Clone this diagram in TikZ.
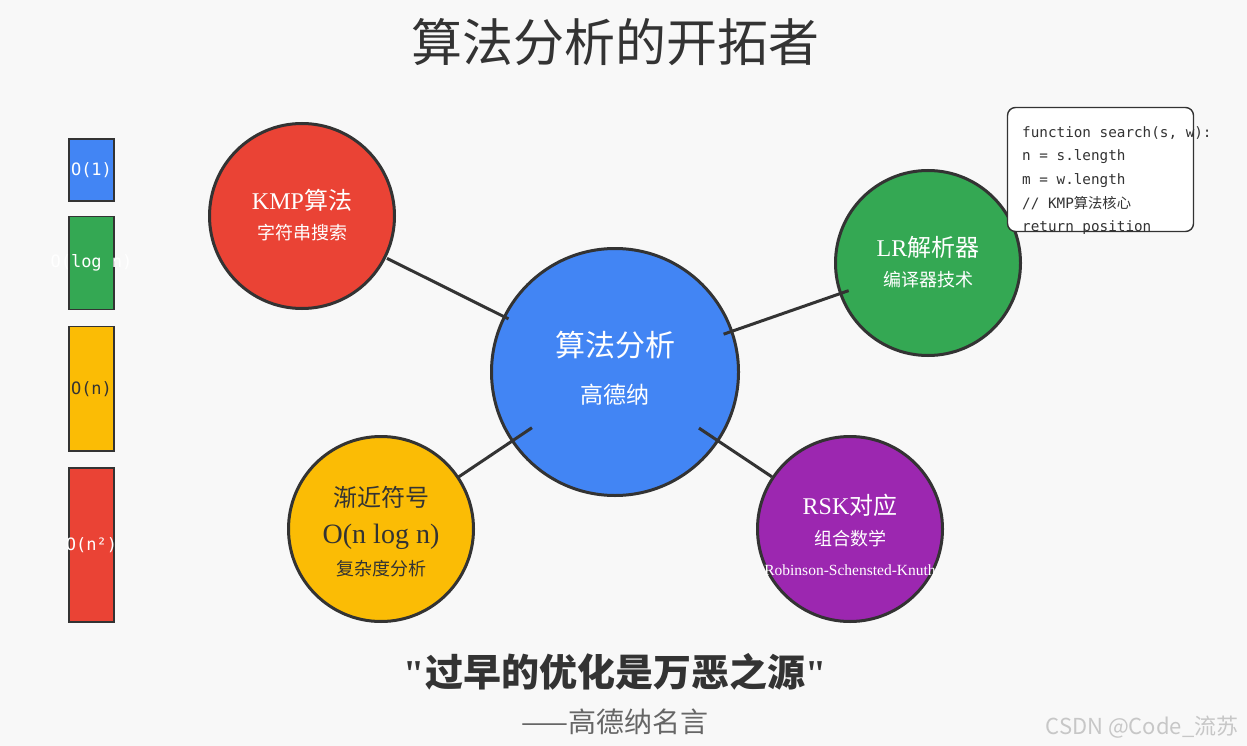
\documentclass[tikz,border=0pt]{standalone}
\usepackage{xcolor}
\usepackage{fontspec}
\setmainfont{Noto Sans CJK SC}
\setmonofont{DejaVu Sans Mono}
\newfontfamily\lat{Liberation Serif}
\newfontfamily\cjk{Noto Sans CJK SC}
\usetikzlibrary{positioning}
\definecolor{bgcolor}{HTML}{F8F8F8}
\definecolor{inkcolor}{HTML}{333333}
\definecolor{quotegray}{HTML}{666666}
\definecolor{gblue}{HTML}{4285F4}
\definecolor{gred}{HTML}{EA4335}
\definecolor{ggreen}{HTML}{34A853}
\definecolor{gyellow}{HTML}{FBBC05}
\definecolor{gpurple}{HTML}{9C27B0}

\begin{document}
\begin{tikzpicture}[
  x=1pt, y=-1pt,
  topic/.style={circle, draw=inkcolor, line width=3pt, minimum size=185pt, inner sep=0pt},
  headtext/.style={text=white, inner sep=0pt, font=\fontsize{24}{28}\selectfont},
  subtext/.style={text=white, inner sep=0pt, font=\fontsize{18}{22}\selectfont},
  barbox/.style={rectangle, draw=inkcolor, line width=1.6pt, minimum width=45.5pt, inner sep=0pt, text=white, font=\ttfamily\fontsize{17}{20}\selectfont},
  link/.style={draw=inkcolor, line width=3pt},
  codebox/.style={rectangle, rounded corners=8pt, draw=inkcolor, line width=1.4pt, fill=white, minimum width=186pt, minimum height=124pt},
  codeline/.style={anchor=base west, inner sep=0pt, text=inkcolor, font=\ttfamily\fontsize{14.3}{17}\selectfont}
]
\fill[bgcolor] (0,0) rectangle (1247,746);
\useasboundingbox (0,0) rectangle (1247,746);

% title
\node[text=inkcolor, font=\fontsize{51}{60}\selectfont] (title) at (615,42) {算法分析的开拓者};

% complexity bars
\node[barbox, fill=gblue, minimum height=62.4pt] (barone) at (91.5,170) {\makebox[0pt]{O(1)}};
\node[barbox, fill=ggreen, minimum height=93.2pt, below=13.6pt of barone] (barlog) {\makebox[0pt]{O(log n)}};
\node[barbox, fill=gyellow, minimum height=124.2pt, text=inkcolor, below=15.4pt of barlog] (barlin) {\makebox[0pt]{O(n)}};
\node[barbox, fill=gred, minimum height=154.2pt, below=15.4pt of barlin] (barsq) {\makebox[0pt]{O(n²)}};

% circles
\node[topic, fill=gblue, minimum size=247pt] (algo) at (615,372) {};
\node[topic, fill=gred] (kmp) at (302,216) {};
\node[topic, fill=ggreen] (lr) at (928,263) {};
\node[topic, fill=gyellow] (asym) at (381,529) {};
\node[topic, fill=gpurple] (rsk) at (850,529) {};

% connectors
\draw[link, shorten <=95pt, shorten >=119pt] (kmp.center) -- (algo.center);
\draw[link, shorten <=115pt, shorten >=84pt] (algo.center) -- (lr.center);
\draw[link, shorten <=93pt, shorten >=100pt] (asym.center) -- (algo.center);
\draw[link, shorten <=101pt, shorten >=94pt] (algo.center) -- (rsk.center);

% circle texts
\node[headtext, font=\fontsize{30}{34}\selectfont] (algoname) at (615,345) {算法分析};
\node[subtext, font=\fontsize{23}{27}\selectfont] (algosub) at (615,395) {高德纳};
\node[headtext] (kmpname) at (302,200) {{\lat KMP}算法};
\node[subtext] (kmpsub) at (302,233) {字符串搜索};
\node[headtext] (lrname) at (928,247) {{\lat LR}解析器};
\node[subtext] (lrsub) at (928,280) {编译器技术};
\node[headtext, text=inkcolor] (asymname) at (381,497) {渐近符号};
\node[headtext, text=inkcolor, font=\lat\fontsize{28}{32}\selectfont] (asymbig) at (381,537) {O(n log n)};
\node[subtext, text=inkcolor] (asymsub) at (381,569) {复杂度分析};
\node[headtext] (rskname) at (850,505) {{\lat RSK}对应};
\node[subtext] (rsksub) at (850,539) {组合数学};
\node[subtext, font=\lat\fontsize{15.5}{18}\selectfont] (rskfull) at (850,570) {Robinson-Schensted-Knuth};

% code snippet
\node[codebox] (code) at (1100.5,169.5) {};
\node[codeline] (codeA) at (1022,137.5) {function search(s, w):};
\node[codeline] (codeB) at (1022,161) {n = s.length};
\node[codeline] (codeC) at (1022,184.5) {m = w.length};
\node[codeline] (codeD) at (1022,208) {// KMP{\cjk 算法核心}};
\node[codeline] (codeE) at (1022,231.5) {return position};

% quote
\node[text=inkcolor, font=\bfseries\fontsize{38}{44}\selectfont] (quote) at (615,672) {{\lat\bfseries "}过早的优化是万恶之源{\lat\bfseries "}};
\node[text=quotegray, font=\fontsize{28}{32}\selectfont] (source) at (615,722) {——高德纳名言};

% watermark
\node[text=black!22, font=\fontsize{22}{26}\selectfont] (mark) at (1142,727) {CSDN @Code\_流苏};
\end{tikzpicture}
\end{document}
